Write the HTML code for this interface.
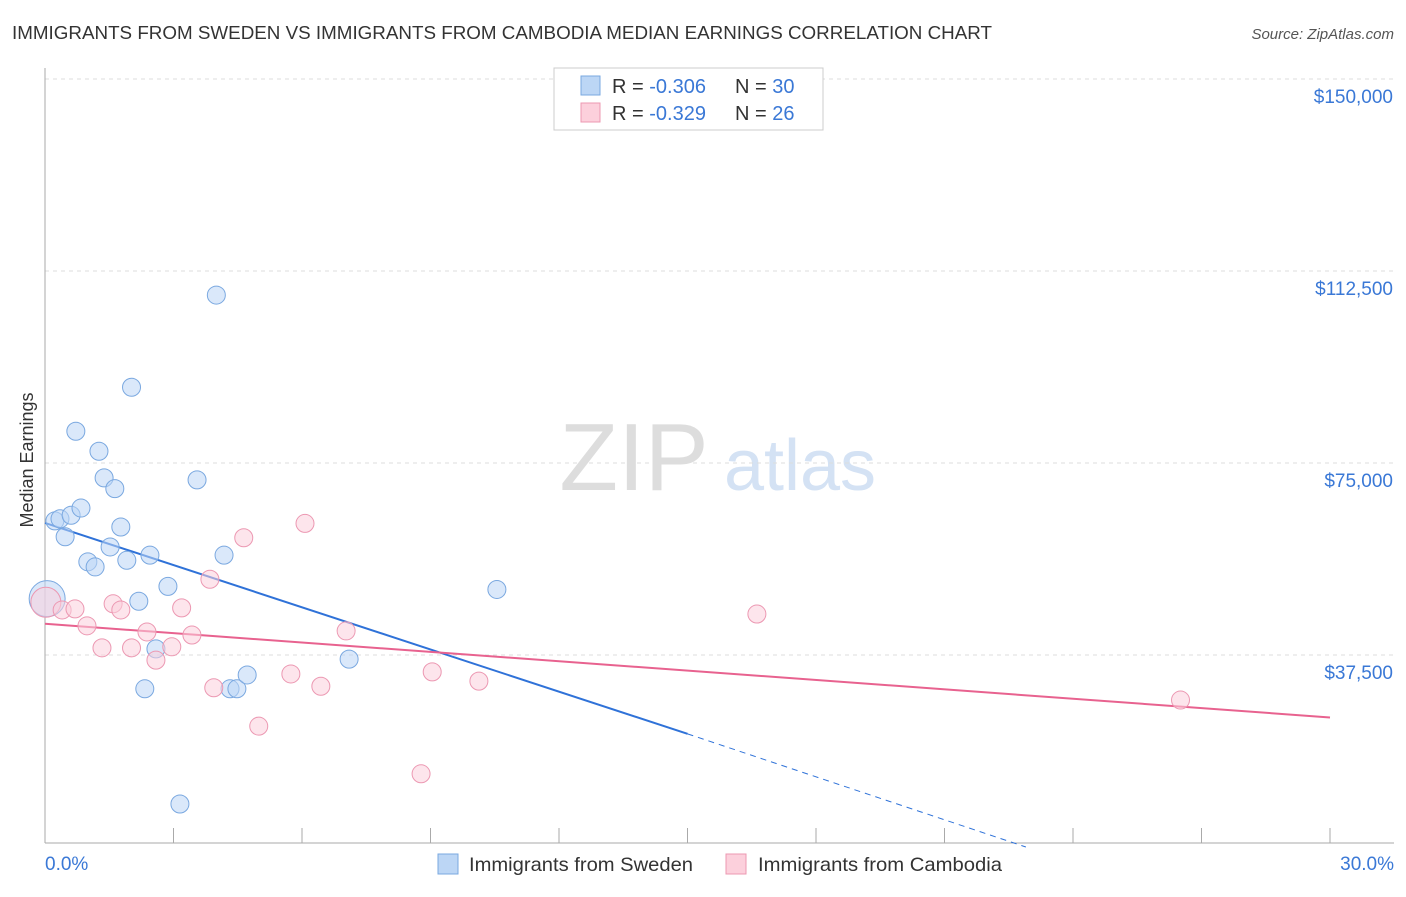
<!DOCTYPE html>
<html><head><meta charset="utf-8"><style>
body{margin:0;background:#fff;font-family:"Liberation Sans",sans-serif;}
svg text{font-family:"Liberation Sans",sans-serif;}
</style></head><body>
<svg id="chart" width="1406" height="892" xmlns="http://www.w3.org/2000/svg">
<text x="12" y="39" font-size="18" fill="#333" textLength="980" lengthAdjust="spacingAndGlyphs">IMMIGRANTS FROM SWEDEN VS IMMIGRANTS FROM CAMBODIA MEDIAN EARNINGS CORRELATION CHART</text>
<text x="1394" y="39" font-size="15" fill="#555" font-style="italic" text-anchor="end">Source: ZipAtlas.com</text>
<text x="33" y="460" font-size="18" fill="#333" transform="rotate(-90 33 460)" text-anchor="middle">Median Earnings</text>
<g><text x="634" y="490" font-size="96" fill="#ddd" font-family="Liberation Serif" text-anchor="middle">ZIP</text><text x="800" y="490" font-size="72" fill="#d4e2f4" text-anchor="middle">atlas</text></g>
<g id="grid"></g><g id="axes"></g><g id="lines"></g><g id="pts"></g>
<g>
<rect x="554" y="68" width="269" height="62" fill="#fff" stroke="#ccc"/>
<rect x="581" y="76" width="19" height="19" fill="#bcd6f5" stroke="#7aa8e0"/>
<rect x="581" y="103" width="19" height="19" fill="#fcd0dc" stroke="#ec98b2"/>
<text x="612" y="93" font-size="20" fill="#333">R = <tspan fill="#3a78d6">-0.306</tspan><tspan x="735">N = </tspan><tspan fill="#3a78d6">30</tspan></text>
<text x="612" y="120" font-size="20" fill="#333">R = <tspan fill="#3a78d6">-0.329</tspan><tspan x="735">N = </tspan><tspan fill="#3a78d6">26</tspan></text>
</g>
<g>
<rect x="438" y="854" width="20" height="20" fill="#bcd6f5" stroke="#7aa8e0"/>
<text x="469" y="871" font-size="19.5" fill="#333" textLength="224" lengthAdjust="spacingAndGlyphs">Immigrants from Sweden</text>
<rect x="726" y="854" width="20" height="20" fill="#fcd0dc" stroke="#ec98b2"/>
<text x="758" y="871" font-size="19.5" fill="#333" textLength="244" lengthAdjust="spacingAndGlyphs">Immigrants from Cambodia</text>
</g>
</svg>
<script>
const yTicks=[37500,75000,112500,150000];
const yTickLabels=["$37,500","$75,000","$112,500","$150,000"];
const xTicks=[0,3,6,9,12,15,18,21,24,27,30];
const swedenX=[0.05,0.23,0.35,0.47,0.61,0.72,0.84,1.00,1.17,1.26,1.38,1.52,1.63,1.77,1.91,2.02,2.19,2.33,2.45,2.59,2.87,3.15,3.55,4.00,4.18,4.32,4.48,4.72,7.10,10.55];
const swedenY=[48500,63700,64100,60600,64800,81200,66200,55700,54700,77300,72100,58600,70000,62500,56000,89800,48000,30900,57000,38700,50900,8400,71700,107800,57000,30900,30900,33600,36700,50300];
const swedenR=[18,9,9,9,9,9,9,9,9,9,9,9,9,9,9,9,9,9,9,9,9,9,9,9,9,9,9,9,9,9];
const cambodiaX=[0.02,0.40,0.70,0.98,1.33,1.59,1.77,2.02,2.38,2.59,2.96,3.19,3.43,3.85,3.94,4.64,4.99,5.74,6.07,6.44,7.03,8.78,9.04,10.13,16.62,26.51];
const cambodiaY=[47800,46300,46500,43200,38900,47500,46300,38900,42000,36500,39100,46700,41400,52300,31100,60400,23600,33800,63200,31400,42200,14300,34200,32400,45500,28700];
const cambodiaR=[15,9,9,9,9,9,9,9,9,9,9,9,9,9,9,9,9,9,9,9,9,9,9,9,9,9];
const swedenTrendX=[0,15,22.9];
const swedenTrendY=[63300,22100,0];
const cambodiaTrendX=[0,30];
const cambodiaTrendY=[43600,25300];
const NS="http://www.w3.org/2000/svg";
const X0=45,X1=1330,YB=847,PX=192/37500;
const sx=v=>X0+(X1-X0)*v/30, sy=v=>YB-v*PX;
function mk(t,a,p){const e=document.createElementNS(NS,t);for(const k in a)e.setAttribute(k,a[k]);document.getElementById(p).appendChild(e);return e;}
yTicks.forEach((v,i)=>{
 const l=mk('line',{x1:X0,x2:1394,y1:sy(v),y2:sy(v),stroke:'#ddd','stroke-dasharray':'4,4'},'grid');
 
 
 const t=mk('text',{x:1393,y:sy(v)+24,'font-size':19,fill:'#3a78d6','text-anchor':'end'},'grid');
 t.textContent=yTickLabels[i];
 
 
});
const ya=mk('line',{x1:X0,x2:X0,y1:68,y2:843,stroke:'#aaa'},'axes');


const xa=mk('line',{x1:X0,x2:1394,y1:843,y2:843,stroke:'#aaa'},'axes');


xTicks.forEach(v=>{const t=mk('line',{x1:sx(v),x2:sx(v),y1:828,y2:843,stroke:'#aaa'},'axes');
 
 });
const xl0=mk('text',{x:45,y:870,'font-size':19,fill:'#3a78d6'},'axes');xl0.textContent='0.0%';


const xl1=mk('text',{x:1394,y:870,'font-size':19,fill:'#3a78d6','text-anchor':'end'},'axes');xl1.textContent='30.0%';


function pts(xs,ys,rs,fill,stroke,name){xs.forEach((x,i)=>{const c=mk('circle',{cx:sx(x),cy:sy(ys[i]),r:rs[i],fill:fill,'fill-opacity':0.55,stroke:stroke,'stroke-width':1},'pts');
 
 });}
pts(swedenX,swedenY,swedenR,'#bcd6f5','#7aa8e0','sweden-point');
pts(cambodiaX,cambodiaY,cambodiaR,'#fcd0dc','#ec98b2','cambodia-point');
const b1=mk('line',{x1:sx(swedenTrendX[0]),y1:sy(swedenTrendY[0]),x2:sx(swedenTrendX[1]),y2:sy(swedenTrendY[1]),stroke:'#2f72d8','stroke-width':2},'lines');


const b2=mk('line',{x1:sx(swedenTrendX[1]),y1:sy(swedenTrendY[1]),x2:sx(swedenTrendX[2]),y2:sy(swedenTrendY[2]),stroke:'#2f72d8','stroke-width':1,'stroke-dasharray':'6,5'},'lines');


const p1=mk('line',{x1:sx(cambodiaTrendX[0]),y1:sy(cambodiaTrendY[0]),x2:sx(cambodiaTrendX[1]),y2:sy(cambodiaTrendY[1]),stroke:'#e8628f','stroke-width':2},'lines');


</script>
</body></html>
